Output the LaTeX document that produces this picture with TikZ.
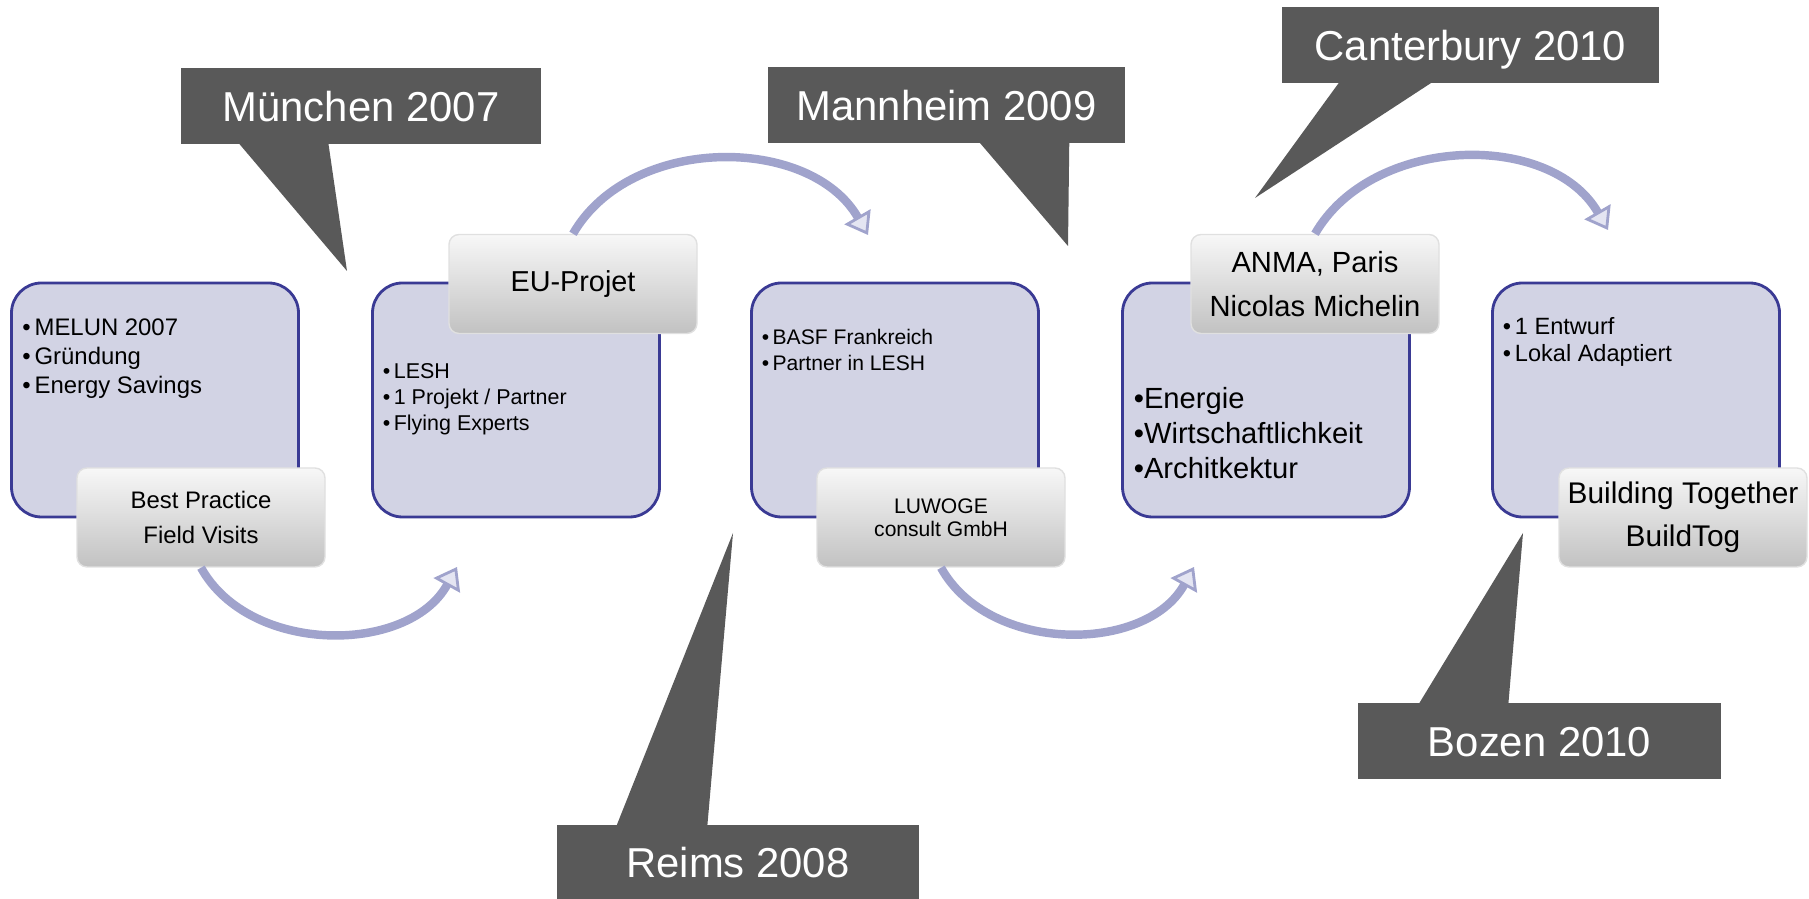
\documentclass[tikz,border=0pt]{standalone}
\usepackage{fontspec}
\setmainfont{Liberation Sans}
\usepackage{xcolor}
\usetikzlibrary{arrows.meta}

\definecolor{boxfill}{RGB}{210,211,228}
\definecolor{boxline}{RGB}{58,58,148}
\definecolor{calloutgray}{RGB}{89,89,89}
\definecolor{arrowcol}{RGB}{160,163,204}
\definecolor{arrowlite}{RGB}{228,229,242}

\begin{document}
\begin{tikzpicture}[node distance=3.7cm,
    stagebox/.style={draw=boxline, line width=0.8pt, fill=boxfill, rounded corners=0.3cm, minimum width=2.87cm, minimum height=2.34cm},
    tagbox/.style={top color=white!97!black, bottom color=black!24, draw=black!12, rounded corners=0.1cm, minimum width=2.48cm, minimum height=0.99cm, align=center, inner sep=0pt},
    listtext/.style={anchor=north west, align=left, inner sep=0pt},
    callout/.style={fill=calloutgray, text=white, minimum width=3.6cm, minimum height=0.76cm, inner sep=0pt, font=\fontsize{11.9pt}{14pt}\selectfont, text height=8.6pt, text depth=0pt},
    flow/.style={line width=2.4pt, draw=arrowcol, -{Triangle[length=6pt, width=8.5pt, line width=0.8pt, fill=arrowlite]}}]
    \useasboundingbox (0,0) rectangle (18.09,-8.99);

    % stages
    \node[stagebox] (b1) at (1.55,-4.0) {};
    \node[stagebox, right of=b1, xshift=-0.09cm] (b2) {};
    \node[stagebox, right of=b2, xshift=0.09cm] (b3) {};
    \node[stagebox, right of=b3, xshift=0.01cm] (b4) {};
    \node[stagebox, right of=b4] (b5) {};

    \node[listtext, font=\fontsize{6.8pt}{8.2pt}\selectfont] (l1) at ([xshift=0.115cm, yshift=-0.37cm]b1.north west) {•\,MELUN 2007\\•\,Gründung\\•\,Energy Savings};
    \node[listtext, font=\fontsize{6.1pt}{7.4pt}\selectfont] (l2) at ([xshift=0.11cm, yshift=-0.81cm]b2.north west) {•\,LESH\\•\,1 Projekt / Partner\\•\,Flying Experts};
    \node[listtext, font=\fontsize{6pt}{7.4pt}\selectfont] (l3) at ([xshift=0.11cm, yshift=-0.47cm]b3.north west) {•\,BASF Frankreich\\•\,Partner in LESH};
    \node[listtext, font=\fontsize{8.3pt}{10pt}\selectfont] (l4) at ([xshift=0.12cm, yshift=-1.05cm]b4.north west) {•Energie\\•Wirtschaftlichkeit\\•Architkektur};
    \node[listtext, font=\fontsize{6.7pt}{7.7pt}\selectfont] (l5) at ([xshift=0.11cm, yshift=-0.35cm]b5.north west) {•\,1 Entwurf\\•\,Lokal Adaptiert};

    % tags
    \node[tagbox, font=\fontsize{6.8pt}{10pt}\selectfont] (t1) at ([xshift=0.46cm, yshift=-1.175cm]b1) {Best Practice\\Field Visits};
    \node[tagbox, font=\fontsize{8.2pt}{10pt}\selectfont] (t2) at ([xshift=0.57cm, yshift=1.16cm]b2) {EU-Projet};
    \node[tagbox, font=\fontsize{6pt}{6.6pt}\selectfont] (t3) at ([xshift=0.46cm, yshift=-1.175cm]b3) {LUWOGE\\consult GmbH};
    \node[tagbox, font=\fontsize{8.3pt}{12.3pt}\selectfont] (t4) at ([xshift=0.49cm, yshift=1.16cm]b4) {ANMA, Paris\\Nicolas Michelin};
    \node[tagbox, font=\fontsize{8.5pt}{12.3pt}\selectfont] (t5) at ([xshift=0.47cm, yshift=-1.175cm]b5) {Building Together\\BuildTog};

    % arrows
    \coordinate (e1) at (4.57,-5.67);
    \coordinate (e2) at (8.68,-2.35);
    \coordinate (e3) at (11.94,-5.67);
    \coordinate (e4) at (16.08,-2.30);
    \draw[flow] (t1.south) to[out=-61, in=-119] (e1);
    \draw[flow] (t2.north) to[out=60, in=120] (e2);
    \draw[flow] (t3.south) to[out=-61, in=-119] (e3);
    \draw[flow] (t4.north) to[out=60, in=120] (e4);

    % callouts
    \node[callout] (munich) at (3.61,-1.06) {München 2007};
    \coordinate (munichtip) at (3.47,-2.71);
    \fill[calloutgray] ([xshift=0.58cm, yshift=0.02cm]munich.south west) -- ([xshift=1.48cm, yshift=0.02cm]munich.south west) -- (munichtip) -- cycle;

    \node[callout, minimum width=3.57cm] (mannheim) at (9.465,-1.055) {Mannheim 2009};
    \coordinate (mannheimtip) at (10.68,-2.46);
    \fill[calloutgray] ([xshift=2.12cm, yshift=0.02cm]mannheim.south west) -- ([xshift=3.02cm, yshift=0.02cm]mannheim.south west) -- (mannheimtip) -- cycle;

    \node[callout, minimum width=3.77cm] (canterbury) at (14.705,-0.455) {Canterbury 2010};
    \coordinate (canterburytip) at (12.55,-1.98);
    \fill[calloutgray] ([xshift=0.58cm, yshift=0.02cm]canterbury.south west) -- ([xshift=1.51cm, yshift=0.02cm]canterbury.south west) -- (canterburytip) -- cycle;

    \node[callout, minimum width=3.62cm, minimum height=0.74cm] (reims) at (7.38,-8.62) {Reims 2008};
    \coordinate (reimstip) at (7.33,-5.33);
    \fill[calloutgray] ([xshift=0.60cm, yshift=-0.02cm]reims.north west) -- ([xshift=1.51cm, yshift=-0.02cm]reims.north west) -- (reimstip) -- cycle;

    \node[callout, minimum width=3.63cm] (bozen) at (15.395,-7.415) {Bozen 2010};
    \coordinate (bozentip) at (15.23,-5.33);
    \fill[calloutgray] ([xshift=0.61cm, yshift=-0.02cm]bozen.north west) -- ([xshift=1.51cm, yshift=-0.02cm]bozen.north west) -- (bozentip) -- cycle;
\end{tikzpicture}
\end{document}
